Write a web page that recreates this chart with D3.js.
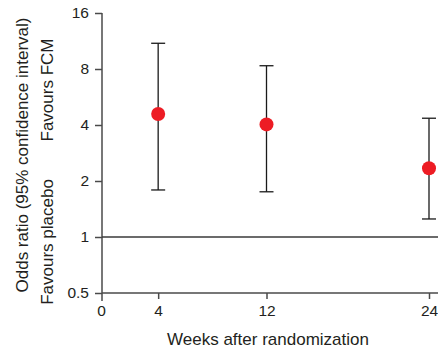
<!DOCTYPE html>
<html>
<head>
<meta charset="utf-8">
<script src="https://cdn.jsdelivr.net/npm/d3@7"></script>
<style>
	body { margin: 0; background: #fff; }
	svg { display: block; font-family: "Liberation Sans", Arial, sans-serif; }
	.axis path, .axis line { stroke: #4a4a4a; stroke-width: 1.5; }
	.axis text { fill: #231f20; font-size: 15.5px; }
</style>
</head>
<body>
<svg id="chart" width="438" height="351"></svg>
<script>
// odds ratios
let weeks = [4, 12, 24];
let oddsRatio = [4.58, 4.03, 2.34];
let ciLower = [1.79, 1.75, 1.25];
let ciUpper = [11.0, 8.33, 4.35];
let xTicks = [0, 4, 12, 24];
let yTicks = [0.5, 1, 2, 4, 8, 16];

let chart = {
	width: 438,
	height: 351,
	scale: {
		x: d3.scaleLinear().domain([0, 24]).range([104, 429]),
		y: d3.scaleLog().base(2).domain([0.5, 16]).range([293, 13])
	},

	drawAxes: function(svg) {
		let x = chart.scale.x, y = chart.scale.y;
		let axisX = 102;

		// y axis
		let ya = svg.append('g').attr('class', 'axis')
			.attr('transform', 'translate(' + axisX + ',0)')
			.call(d3.axisLeft(y).tickValues(yTicks).tickFormat(d3.format('')).tickSize(7).tickPadding(6));
		ya.select('.domain').remove();
		ya.append('line')
			.attr('x1', 0).attr('x2', 0)
			.attr('y1', y(16)).attr('y2', y(0.5) + 8);

		// x axis
		let xa = svg.append('g').attr('class', 'axis')
			.attr('transform', 'translate(0,' + y(0.5) + ')')
			.call(d3.axisBottom(x).tickValues(xTicks).tickSize(6).tickPadding(6));
		xa.select('.domain').remove();
		xa.selectAll('.tick').filter(function(d) { return d === 0; }).select('line').remove();
		xa.selectAll('.tick').filter(function(d) { return d === 0; }).select('text').attr('dx', -3);
		xa.append('line')
			.attr('x1', axisX).attr('x2', chart.width)
			.attr('y1', 0).attr('y2', 0);

		// reference line at OR = 1
		svg.append('line')
			.attr('x1', axisX).attr('x2', chart.width)
			.attr('y1', y(1)).attr('y2', y(1))
			.attr('stroke', '#3a3a3a').attr('stroke-width', 1.5);

		// titles
		svg.append('text')
			.attr('x', 268).attr('y', 345)
			.attr('text-anchor', 'middle')
			.attr('font-size', 17).attr('fill', '#231f20')
			.text('Weeks after randomization');

		svg.append('text')
			.attr('transform', 'translate(28,155) rotate(-90)')
			.attr('text-anchor', 'middle')
			.attr('font-size', 17).attr('fill', '#231f20')
			.text('Odds ratio (95% confidence interval)');

		svg.append('text')
			.attr('transform', 'translate(53,242) rotate(-90)')
			.attr('text-anchor', 'middle')
			.attr('font-size', 17).attr('fill', '#231f20')
			.text('Favours placebo');

		svg.append('text')
			.attr('transform', 'translate(53,90) rotate(-90)')
			.attr('text-anchor', 'middle')
			.attr('font-size', 17).attr('fill', '#231f20')
			.text('Favours FCM');
	},

	drawPoints: function(svg) {
		let x = chart.scale.x, y = chart.scale.y;
		let items = weeks.map(function(w, i) {
			return { week: w, or: oddsRatio[i], lo: ciLower[i], hi: ciUpper[i] };
		});

		let g = svg.append('g').attr('stroke', '#1a1a1a').attr('stroke-width', 1.3);

		g.selectAll('line.bar').data(items).enter().append('line')
			.attr('class', 'bar')
			.attr('x1', function(d) { return x(d.week); })
			.attr('x2', function(d) { return x(d.week); })
			.attr('y1', function(d) { return y(d.lo); })
			.attr('y2', function(d) { return y(d.hi); });

		['lo', 'hi'].forEach(function(k) {
			g.selectAll('line.cap-' + k).data(items).enter().append('line')
				.attr('class', 'cap-' + k)
				.attr('x1', function(d) { return x(d.week) - 7; })
				.attr('x2', function(d) { return x(d.week) + 7; })
				.attr('y1', function(d) { return y(d[k]); })
				.attr('y2', function(d) { return y(d[k]); });
		});

		svg.selectAll('circle.pt').data(items).enter().append('circle')
			.attr('class', 'pt')
			.attr('cx', function(d) { return x(d.week); })
			.attr('cy', function(d) { return y(d.or); })
			.attr('r', 7)
			.attr('fill', '#ed1c24');
	}
};

let svg = d3.select('#chart');
chart.drawAxes(svg);
chart.drawPoints(svg);
</script>
</body>
</html>
